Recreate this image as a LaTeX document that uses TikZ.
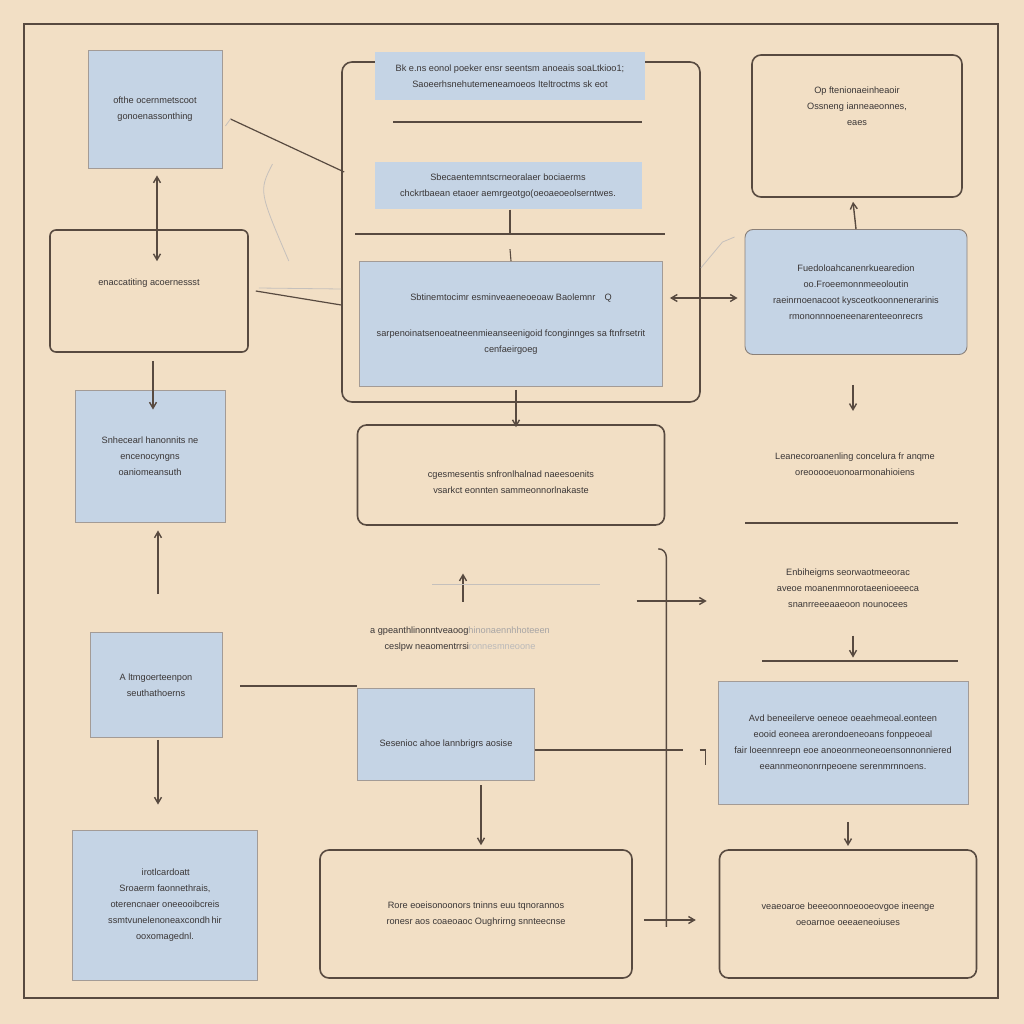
\documentclass[tikz,border=0pt]{standalone}
\usepackage{fontspec}
\setmainfont{Liberation Sans}
\usetikzlibrary{arrows.meta,calc}
\definecolor{bgclr}{RGB}{242,223,197}
\definecolor{boxblue}{RGB}{197,212,229}
\definecolor{lineclr}{RGB}{88,74,64}
\definecolor{txtclr}{RGB}{58,54,54}
\tikzset{
  every node/.style={font=\fontsize{9.2}{16}\selectfont, text=txtclr, align=center, inner sep=0pt},
  bluebox/.style={fill=boxblue, draw=lineclr!55, line width=0.9pt},
  outbox/.style={draw=lineclr, line width=1.6pt, rounded corners=9pt},
  plain/.style={},
  conn/.style={draw=lineclr, line width=1.4pt},
  arr/.style={conn, -{Straight Barb[length=6pt,width=7pt]}},
  darr/.style={conn, {Straight Barb[length=6pt,width=7pt]}-{Straight Barb[length=6pt,width=7pt]}},
  faint/.style={draw=lineclr!35, line width=0.8pt}
}
\begin{document}
\begin{tikzpicture}[x=1pt,y=-1pt]
\fill[bgclr] (0,0) rectangle (1024,1024);
\useasboundingbox (0,0) rectangle (1024,1024);
% outer frame
\draw[conn, line width=1.8pt] (24,24) rectangle (998,998);

% ---------- left column ----------
\node[bluebox, minimum width=134, minimum height=118] (A) at (155,109)
  {ofthe ocernmetscoot\\ gonoenassonthing};
\node[outbox, minimum width=198, minimum height=122, rounded corners=6pt] (B) at (149,291)
  {enaccatiting acoernessst\\[2pt]};
\node[bluebox, minimum width=150, minimum height=132] (C) at (150,456)
  {Snhecearl hanonnits ne\\ encenocyngns\\ oaniomeansuth};
\node[bluebox, minimum width=132, minimum height=105] (D) at (156,685)
  {A ltmgoerteenpon\\ seuthathoerns};
\node[bluebox, minimum width=185, minimum height=150] (E) at (165,905)
  {\,irotlcardoatt\\ Sroaerm faonnethrais,\\ oterencnaer oneeooibcreis\\ ssmtvunelenoneaxcondh\,hir\\ ooxomagednl.};

% ---------- middle column ----------
\node[outbox, minimum width=358, minimum height=340, rounded corners=10pt] (R) at (521,232) {};
\node[fill=boxblue, minimum width=270, minimum height=48] (S1) at (510,76)
  {Bk e.ns eonol poeker ensr seentsm anoeais soaLtkioo1;\\ Saoeerhsnehutemeneamoeos Iteltroctms sk eot};
\node[fill=boxblue, minimum width=267, minimum height=47] (S2) at (508,186)
  {Sbecaentemntscrneoralaer bociaerms\\ chckrtbaean etaoer aemrgeotgo(oeoaeoeolserntwes.};
\draw[conn] (393,122) -- (642,122);
\draw[conn] (355,234) -- (665,234);
\node[bluebox, minimum width=303, minimum height=125] (F) at (511,324)
  {Sbtinemtocimr esminveaeneoeoaw Baolemnr\quad Q\\[20pt]
   sarpenoinatsenoeatneenmieanseenigoid fconginnges sa ftnfrsetrit\\ cenfaeirgoeg};
\node[outbox, minimum width=307, minimum height=100] (G) at (511,475)
  {\\[6pt]cgesmesentis snfronlhalnad naeesoenits\\ vsarkct eonnten sammeonnorlnakaste};
\node[plain] (T3) at (460,639)
  {a gpeanthlinonntveaoog\textcolor{txtclr!45}{hinonaennhhoteeen}\\ ceslpw neaomentrrsi\textcolor{txtclr!35}{ronnesmneoone}};
\node[bluebox, minimum width=177, minimum height=92] (H) at (446,734)
  {\\[10pt]Sesenioc ahoe lannbrigrs aosise};
\node[outbox, minimum width=312, minimum height=128] (J) at (476,914)
  {Rore eoeisonoonors tninns euu tqnorannos\\ ronesr aos coaeoaoc Oughrirng snnteecnse};

% ---------- right column ----------
\node[outbox, minimum width=210, minimum height=142] (K) at (857,126)
  {Op ftenionaeinheaoir\\ Ossneng ianneaeonnes,\\ eaes\\[24pt]};
\node[bluebox, draw=lineclr!70, minimum width=222, minimum height=125, rounded corners=8pt] (L) at (856,292)
  {Fuedoloahcanenrkuearedion\\ oo.Froeemonnmeeoloutin\\ raeinrnoenacoot kysceotkoonnenerarinis\\ rmononnnoeneenarenteeonrecrs};
\node[plain] (T1) at (855,464)
  {Leanecoroanenling concelura fr anqme\\ oreooooeuonoarmonahioiens};
\draw[conn] (745,523) -- (958,523);
\node[plain] (T2) at (848,588)
  {Enbiheigms seorwaotmeeorac\\ aveoe moanenmnorotaeenioeeeca\\ snanrreeeaaeoon nounocees};
\draw[conn] (762,661) -- (958,661);
\node[bluebox, minimum width=250, minimum height=123] (I) at (843,743)
  {Avd beneeilerve oeneoe oeaehmeoal.eonteen\\ eooid eoneea arerondoeneoans fonppeoeal\\ fair loeennreepn eoe anoeonrneoneoensonnonniered\\ eeannmeononrnpeoene serenmrnnoens.};
\node[outbox, minimum width=257, minimum height=128] (M) at (848,914)
  {veaeoaroe beeeoonnoeooeovgoe ineenge\\ oeoarnoe oeeaeneoiuses};

% ---------- connectors, left ----------
\draw[darr] ($(A.south)+(2,7)$) -- ($(B.north)+(8,32)$);
\draw[arr] ($(B.south)+(4,8)$) -- ($(C.north)+(3,20)$);
\draw[arr] ($(D.north)+(2,-38)$) -- ($(C.south)+(8,8)$);
\draw[arr] ($(D.south)+(2,2)$) -- ($(E.north)+(-7,-25)$);
\draw[conn, line width=1.2pt] ($(A.east)+(8,10)$) -- ($(R.west)+(3,-60)$);
\draw[faint] ($(A.east)+(3,17)$) -- ($(A.east)+(8,10)$);
\draw[conn, line width=1.2pt] ($(B.east)+(7,0)$) -- ($(R.west)+(0,73)$);
\draw[faint] ($(B.east)+(40,-30)$) .. controls ($(B.east)+(10,-100)$) .. ($(A.east)+(50,55)$);
\draw[faint] ($(B.east)+(10,-3)$) -- ($(R.west)+(0,57)$);

% ---------- connectors, middle ----------
\draw[conn, line width=1.1pt] ($(S2.south)+(2,0)$) -- ($(S2.south)+(2,24)$);
\draw[conn, line width=1.1pt] ($(F.north)+(-1,-12)$) -- (F.north);
\draw[darr] ($(F.east)+(7,-26)$) -- ($(L.west)+(-7,6)$);
\draw[arr] ($(F.south)+(5,3)$) -- ($(G.north)+(5,3)$);
\draw[arr] ($(T3.north)+(3,-25)$) -- ($(T3.north)+(3,-53)$);
\draw[faint] ($(T3.north)+(-28,-42)$) -- ($(T3.north)+(140,-42)$);
\draw[conn, line width=1.2pt] ($(D.east)+(18,1)$) -- ($(H.west)+(0,-48)$);
\draw[conn, line width=1.2pt] ($(H.east)+(0,16)$) -- ($(I.west)+(-35,7)$);
\draw[conn, line width=1.2pt] ($(I.west)+(-18,7)$) -- ($(I.west)+(-12,7)$) -- ($(I.west)+(-12,22)$);
\draw[arr] ($(H.south)+(35,5)$) -- ($(J.north)+(5,-4)$);
\coordinate (vt) at ($(G.south east)+(-7,23)$);
\draw[conn] (vt) to[out=0,in=90] ($(vt)+(8,8)$) -- ($(vt)+(8,378)$);
\draw[arr] ($(T2.west)+(-140,13)$) -- ($(T2.west)+(-70,13)$);
\draw[arr] ($(J.east)+(11,6)$) -- ($(J.east)+(63,6)$);
\draw[faint] ($(R.east)+(0,36)$) -- ($(L.west)+(-22,-50)$) -- ($(L.west)+(-10,-55)$);

% ---------- connectors, right ----------
\draw[arr] (L.north) -- ($(K.south)+(-4,4)$);
\draw[arr] ($(L.south)+(-3,30)$) -- ($(L.south)+(-3,56)$);
\draw[arr] ($(T2.south)+(5,28)$) -- ($(T2.south)+(5,50)$);
\draw[arr] ($(I.south)+(5,17)$) -- ($(I.south)+(5,41)$);
\end{tikzpicture}
\end{document}
